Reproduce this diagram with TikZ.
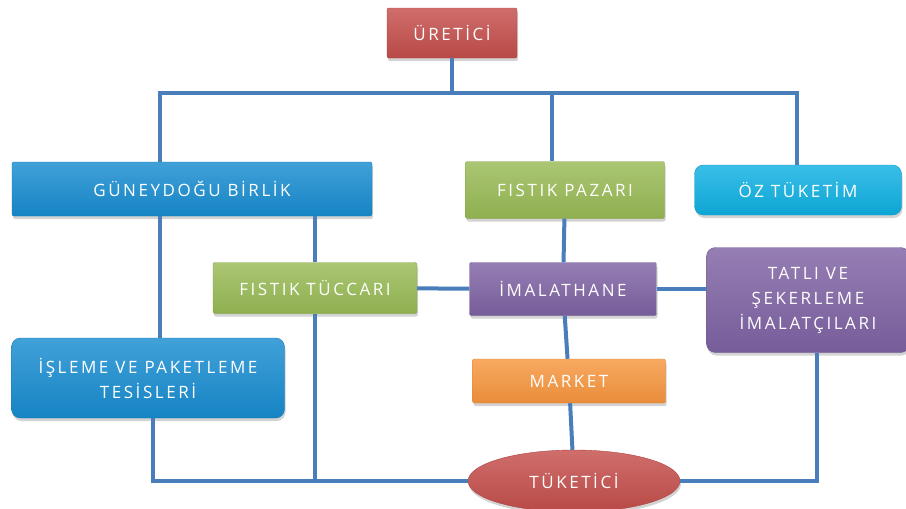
\documentclass[tikz,border=0pt]{standalone}
\usepackage{fontspec}
\newfontfamily\boxfont[LetterSpace=15]{Open Sans}
\usetikzlibrary{positioning, shapes.geometric, shadows, shadings}
\definecolor{linkblue}{RGB}{74,126,187}
\definecolor{redbox}{RGB}{196,78,75}
\definecolor{bluebox}{RGB}{23,140,208}
\definecolor{greenbox}{RGB}{152,186,84}
\definecolor{cyanbox}{RGB}{14,176,226}
\definecolor{purplebox}{RGB}{126,98,163}
\definecolor{orangebox}{RGB}{247,150,62}
\tikzset{
actor/.style = {rectangle, rounded corners = 2pt, inner sep = 2pt, align = center,
   text = white, font = \boxfont\fontsize{17}{25}\selectfont,
   drop shadow = {shadow xshift = 1pt, shadow yshift = -3pt, opacity = .35}},
bigactor/.style = {actor, rounded corners = 9pt},
paint/.style = {top color = #1!82!white, bottom color = #1!94!black,
   draw = #1!88!black, thin},
link/.style = {draw = linkblue, line width = 4pt}
}

\begin{document}
\begin{tikzpicture}[x = 1pt, y = -1pt]
\useasboundingbox (0,0) rectangle (906,509);

%% Producer
\node [actor, paint = redbox, minimum width = 130pt, minimum height = 50pt] (uretici) at (452,33) {ÜRETİCİ};

%% First level
\node [actor, paint = bluebox, minimum width = 360pt, minimum height = 54pt] (guney) at (192,189) {GÜNEYDOĞU BİRLİK};
\node [actor, paint = greenbox, minimum width = 199pt, minimum height = 57pt] (pazar) at (565,190) {FISTIK PAZARI};
\node [bigactor, paint = cyanbox, minimum width = 207pt, minimum height = 50pt] (oz) at (798,190) {ÖZ TÜKETİM};

%% Second level
\node [actor, paint = greenbox, minimum width = 204pt, minimum height = 51pt] (tuccar) at (315,288) {FISTIK TÜCCARI};
\node [actor, paint = purplebox, minimum width = 187pt, minimum height = 53pt] (imalat) at (563,289) {İMALATHANE};
\node [bigactor, paint = purplebox, minimum width = 203pt, minimum height = 105pt] (tatli) at (808,300) {TATLI VE\\ŞEKERLEME\\İMALATÇILARI};

%% Third level
\node [bigactor, paint = bluebox, minimum width = 273pt, minimum height = 80pt] (isleme) at (148,378) {İŞLEME VE PAKETLEME\\TESİSLERİ};
\node [actor, paint = orangebox, minimum width = 193pt, minimum height = 44pt] (market) at (569,381) {MARKET};

%% Consumer
\node [actor, ellipse, paint = redbox, minimum width = 212pt, minimum height = 62pt] (tuketici) at (574,481) {TÜKETİCİ};

%% Top bar
\coordinate (barL) at (160,93);
\coordinate (barP) at (552,93);
\coordinate (barR) at (797,93);
\path [link] (uretici) -- (uretici |- barL);
\path [link] (guney.north -| barL) |- (barR) -- (oz.north -| barR);
\path [link] (barP) -- (pazar.north -| barP);

%% Middle links
\path [link] (guney.south -| barL) -- (isleme.north -| barL);
\path [link] (tuccar) -- (tuccar |- guney.south);
\path [link] (tuccar) -- (imalat);
\path [link] (imalat) -- (imalat -| tatli.west);
\path [link] (pazar) -- (imalat);
\path [link] (imalat) -- (market);
\path [link] (market) -- (tuketici);

%% Bottom bar
\coordinate (botL) at (153,481);
\coordinate (botR) at (817,481);
\path [link] (isleme.south -| botL) |- (tuketici);
\path [link] (tuccar) -- (tuccar |- botL);
\path [link] (tuketici) -| (tatli.south -| botR);

\end{tikzpicture}
\end{document}
